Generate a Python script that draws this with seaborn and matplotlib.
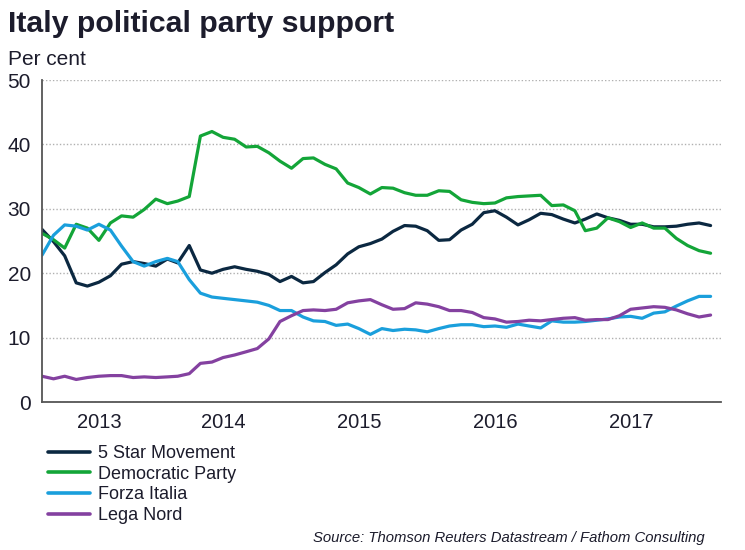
import pandas as pd
import matplotlib
matplotlib.use("Agg")
import matplotlib.pyplot as plt
import matplotlib.dates as mdates
import seaborn as sns

# Monthly poll averages, Mar 2013 - Feb 2018 (per cent)
months = pd.date_range("2013-03-01", periods=60, freq="MS")

five_star = [26.8, 24.9, 22.7, 18.5, 18.0, 18.6, 19.6, 21.4, 21.8, 21.5,
             21.1, 22.2, 21.6, 24.3, 20.5, 20.0, 20.6, 21.0, 20.6, 20.3,
             19.8, 18.7, 19.5, 18.5, 18.7, 20.1, 21.3, 23.0, 24.1, 24.6,
             25.3, 26.5, 27.4, 27.3, 26.6, 25.1, 25.2, 26.7, 27.6, 29.4,
             29.7, 28.7, 27.5, 28.3, 29.3, 29.1, 28.4, 27.8, 28.4, 29.2,
             28.6, 28.2, 27.6, 27.6, 27.2, 27.2, 27.3, 27.6, 27.8, 27.4]
democratic = [26.2, 25.2, 23.9, 27.6, 27.0, 25.1, 27.8, 28.9, 28.7, 29.9,
              31.5, 30.8, 31.2, 31.9, 41.3, 42.0, 41.1, 40.8, 39.6, 39.7,
              38.7, 37.4, 36.3, 37.8, 37.9, 36.9, 36.2, 34.0, 33.3, 32.3,
              33.3, 33.2, 32.5, 32.1, 32.1, 32.8, 32.7, 31.4, 31.0, 30.8,
              30.9, 31.7, 31.9, 32.0, 32.1, 30.5, 30.6, 29.7, 26.6, 27.0,
              28.6, 28.0, 27.1, 27.8, 27.0, 27.0, 25.4, 24.3, 23.5, 23.1]
forza_italia = [22.8, 25.9, 27.5, 27.3, 26.7, 27.6, 26.7, 24.2, 21.8, 21.1,
                21.8, 22.3, 21.8, 19.0, 16.9, 16.3, 16.1, 15.9, 15.7, 15.5,
                15.0, 14.2, 14.2, 13.2, 12.6, 12.5, 11.9, 12.1, 11.4, 10.5,
                11.4, 11.1, 11.3, 11.2, 10.9, 11.4, 11.8, 12.0, 12.0, 11.7,
                11.8, 11.6, 12.1, 11.8, 11.5, 12.6, 12.4, 12.4, 12.5, 12.7,
                12.9, 13.2, 13.3, 13.0, 13.8, 14.0, 14.9, 15.7, 16.4, 16.4]
lega_nord = [4.0, 3.6, 4.0, 3.5, 3.8, 4.0, 4.1, 4.1, 3.8, 3.9,
             3.8, 3.9, 4.0, 4.4, 6.0, 6.2, 6.9, 7.3, 7.8, 8.3,
             9.8, 12.5, 13.4, 14.2, 14.3, 14.2, 14.4, 15.4, 15.7, 15.9,
             15.1, 14.4, 14.5, 15.4, 15.2, 14.8, 14.2, 14.2, 13.9, 13.1,
             12.9, 12.4, 12.5, 12.7, 12.6, 12.8, 13.0, 13.1, 12.7, 12.8,
             12.8, 13.4, 14.4, 14.6, 14.8, 14.7, 14.3, 13.7, 13.2, 13.5]

parties = ["5 Star Movement", "Democratic Party", "Forza Italia", "Lega Nord"]
colours = ["#0b2841", "#13a538", "#1a9fdc", "#8441a0"]

df = pd.DataFrame({"date": months,
                   parties[0]: five_star,
                   parties[1]: democratic,
                   parties[2]: forza_italia,
                   parties[3]: lega_nord})
long = df.melt(id_vars="date", var_name="party", value_name="support")

sns.set_style("white")
plt.rcParams["font.family"] = ["Liberation Sans", "DejaVu Sans"]
text_col = "#1c1c2c"

fig = plt.figure(figsize=(7.45, 5.5), dpi=100)
ax = fig.add_axes([42 / 745, 148 / 550, 679 / 745, 322 / 550])

sns.lineplot(data=long, x="date", y="support", hue="party",
             hue_order=parties, palette=dict(zip(parties, colours)),
             linewidth=2.3, ax=ax, legend=True)

x0 = pd.Timestamp("2013-03-01")
x1 = pd.Timestamp("2018-03-01")
ax.set_xlim(x0, x1)
ax.set_ylim(0, 50)
ax.set_xlabel("")
ax.set_ylabel("")

# y axis: labelled every 10, small ticks every 2
ax.set_yticks(range(0, 51, 10))
ax.set_yticks(range(0, 51, 2), minor=True)
ax.tick_params(axis="y", which="major", length=5, width=1.2, color="#555555",
               labelsize=15, labelcolor=text_col, pad=3)
ax.tick_params(axis="y", which="minor", length=3, width=1.2, color="#555555")
ax.yaxis.grid(True, which="major", linestyle=(0, (1, 1.5)), color="#b0b0b0",
              linewidth=1)
ax.xaxis.grid(False)

# x axis: long ticks at year starts, short at quarters, labels mid-year
ax.xaxis.set_major_locator(mdates.YearLocator())
ax.xaxis.set_minor_locator(mdates.MonthLocator(bymonth=[4, 7, 10]))
ax.tick_params(axis="x", which="major", length=6, width=1.2, color="#555555",
               labelbottom=False)
ax.tick_params(axis="x", which="minor", length=4, width=1.2, color="#555555")

years = range(2013, 2018)
mids = []
for y in years:
    a = max(pd.Timestamp(f"{y}-01-01"), x0)
    b = min(pd.Timestamp(f"{y + 1}-01-01"), x1)
    mids.append(a + (b - a) / 2)
sec = ax.secondary_xaxis("bottom")
sec.set_xticks(mids, [str(y) for y in years])
sec.tick_params(length=0, pad=8, labelsize=14.5, labelcolor=text_col)
sec.spines["bottom"].set_visible(False)

for side in ["top", "right"]:
    ax.spines[side].set_visible(False)
for side in ["left", "bottom"]:
    ax.spines[side].set_color("#555555")
    ax.spines[side].set_linewidth(1.3)

handles, labels = ax.get_legend_handles_labels()
for h in handles:
    h.set_linewidth(2.6)
ax.get_legend().remove()
fig.legend(handles, labels, loc="upper left",
           bbox_to_anchor=(48 / 745, 1 - 445 / 550), frameon=False,
           fontsize=13, handlelength=2.3, handletextpad=0.45,
           labelspacing=0.2, borderpad=0, borderaxespad=0,
           labelcolor=text_col)

fig.text(8 / 745, 1 - 32 / 550, "Italy political party support",
         fontsize=21.8, fontweight="bold", color=text_col, va="baseline")
fig.text(8 / 745, 1 - 65 / 550, "Per cent", fontsize=15, color=text_col,
         va="baseline")
fig.text(705 / 745, 1 - 538 / 550,
         "Source: Thomson Reuters Datastream / Fathom Consulting",
         fontsize=10.7, style="italic", color=text_col, ha="right",
         va="center")

fig.savefig("out.png", dpi=100)
